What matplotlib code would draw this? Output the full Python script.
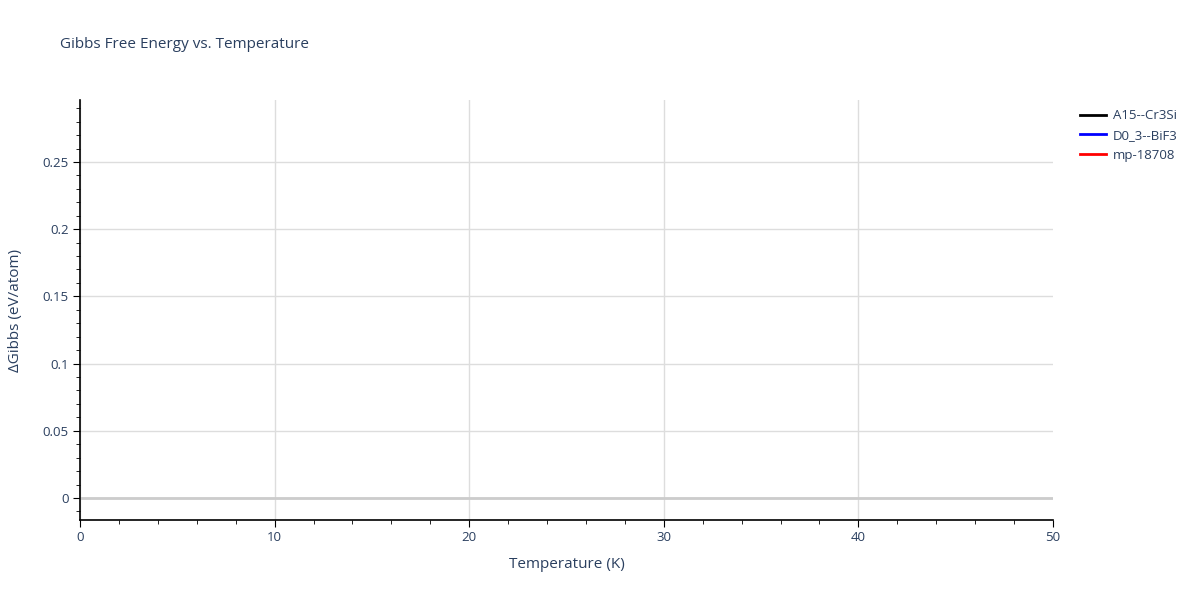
import numpy as np
import matplotlib
matplotlib.use('Agg')
import matplotlib.pyplot as plt
from matplotlib.ticker import MultipleLocator

plt.rcParams['font.family'] = ['Open Sans', 'DejaVu Sans']

# series (no visible points in the reference, only legend entries)
names = ['A15--Cr3Si', 'D0_3--BiF3', 'mp-18708']
colors = ['black', 'blue', 'red']
temps = [[], [], []]
gibbs = [[], [], []]

txt = '#2a3f5f'

fig = plt.figure(figsize=(12, 6), dpi=100)
ax = fig.add_axes([80 / 1200, 80 / 600, 973 / 1200, 420 / 600])

for n, c, t, g in zip(names, colors, temps, gibbs):
    ax.plot(t, g, color=c, lw=2, label=n)

ax.set_xlim(0, 50)
ax.set_ylim(-0.01637, 0.2961)
ax.set_xticks([0, 10, 20, 30, 40, 50])
ax.xaxis.set_minor_locator(MultipleLocator(2))
ax.yaxis.set_minor_locator(MultipleLocator(0.01))
ax.set_yticks([0, 0.05, 0.1, 0.15, 0.2, 0.25])
ax.set_yticklabels(['0', '0.05', '0.1', '0.15', '0.2', '0.25'])

ax.grid(True, which='major', color='#dddddd', lw=1)
ax.xaxis.get_gridlines()[-1].set_visible(False)
ax.axhline(0, color='#cccccc', lw=2, zorder=1)
ax.set_axisbelow(True)

for s in ['top', 'right']:
    ax.spines[s].set_visible(False)
for s in ['left', 'bottom']:
    ax.spines[s].set_color('black')
    ax.spines[s].set_linewidth(1.2)

ax.tick_params(which='major', direction='out', length=5, color='black',
               labelcolor=txt, labelsize=9.5, pad=3)
ax.tick_params(which='minor', direction='out', length=3, color='black')

ax.set_xlabel('Temperature (K)', color=txt, fontsize=11, labelpad=9)
ax.set_ylabel('ΔGibbs (eV/atom)', color=txt, fontsize=11, labelpad=14)

fig.text(60 / 1200, 1 - 45 / 600, 'Gibbs Free Energy vs. Temperature',
         color=txt, fontsize=11, va='center', ha='left')

ax.legend(loc='upper left', bbox_to_anchor=(1.022, 0.99), frameon=False,
          fontsize=9.5, handlelength=2.0, handletextpad=0.5,
          labelcolor=txt, borderaxespad=0, labelspacing=0.5)

fig.savefig('out.png', dpi=100)
